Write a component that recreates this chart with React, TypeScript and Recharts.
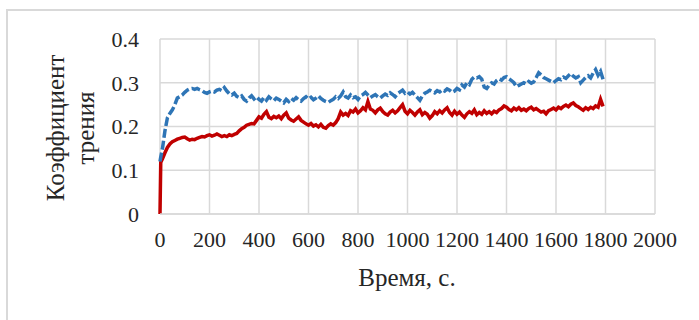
import React from "react";
import { LineChart, Line, XAxis, YAxis, CartesianGrid } from "recharts";

// Время испытания, с
const TIME_S = [
  0, 3, 10, 20, 30, 40, 50, 60, 70, 80, 90,
  100, 110, 120, 130, 140, 150, 160, 170, 180, 190,
  200, 210, 220, 230, 240, 250, 260, 270, 280, 290,
  300, 310, 320, 330, 340, 350, 360, 370, 380, 390,
  400, 410, 420, 430, 440, 450, 460, 470, 480, 490,
  500, 510, 520, 530, 540, 550, 560, 570, 580, 590,
  600, 610, 620, 630, 640, 650, 660, 670, 680, 690,
  700, 710, 720, 730, 740, 750, 760, 770, 780, 790,
  800, 810, 820, 830, 840, 850, 860, 870, 880, 890,
  900, 910, 920, 930, 940, 950, 960, 970, 980, 990,
  1000, 1010, 1020, 1030, 1040, 1050, 1060, 1070, 1080, 1090,
  1100, 1110, 1120, 1130, 1140, 1150, 1160, 1170, 1180, 1190,
  1200, 1210, 1220, 1230, 1240, 1250, 1260, 1270, 1280, 1290,
  1300, 1310, 1320, 1330, 1340, 1350, 1360, 1370, 1380, 1390,
  1400, 1410, 1420, 1430, 1440, 1450, 1460, 1470, 1480, 1490,
  1500, 1510, 1520, 1530, 1540, 1550, 1560, 1570, 1580, 1590,
  1600, 1610, 1620, 1630, 1640, 1650, 1660, 1670, 1680, 1690,
  1700, 1710, 1720, 1730, 1740, 1750, 1760, 1770, 1780, 1790,
];

// Коэффициент трения, пунктирная (синяя) кривая
const FRICTION_DASHED = [
  0.12, 0.13, 0.15, 0.19, 0.22, 0.23, 0.238, 0.25, 0.265, 0.268, 0.272,
  0.278, 0.283, 0.286, 0.287, 0.285, 0.287, 0.284, 0.282, 0.278, 0.276,
  0.279, 0.281, 0.279, 0.283, 0.285, 0.282, 0.289, 0.281, 0.275, 0.272,
  0.276, 0.269, 0.266, 0.27, 0.262, 0.258, 0.265, 0.27, 0.263, 0.268,
  0.262, 0.258, 0.266, 0.26, 0.268, 0.263, 0.259, 0.265, 0.262, 0.258,
  0.254, 0.262, 0.257, 0.264, 0.26, 0.266, 0.261, 0.258, 0.264, 0.268,
  0.263, 0.267, 0.261, 0.265, 0.27, 0.264, 0.26, 0.257, 0.255, 0.259,
  0.262, 0.268, 0.264, 0.27, 0.279, 0.268, 0.265, 0.272, 0.266, 0.268,
  0.262, 0.27, 0.273, 0.278, 0.272, 0.266, 0.27, 0.273, 0.268, 0.265,
  0.27, 0.274, 0.271, 0.277, 0.273, 0.268, 0.275, 0.279, 0.283, 0.276,
  0.279, 0.274, 0.278, 0.272, 0.266, 0.26, 0.27, 0.276, 0.279, 0.283,
  0.28, 0.277, 0.282, 0.279, 0.284, 0.281, 0.286, 0.283, 0.278, 0.281,
  0.287, 0.284, 0.295, 0.29, 0.3, 0.296, 0.308, 0.313, 0.311, 0.314,
  0.308, 0.29, 0.287, 0.295, 0.3, 0.297, 0.305, 0.309, 0.306, 0.312,
  0.314, 0.309, 0.305, 0.3, 0.291, 0.294, 0.297, 0.3, 0.297, 0.303,
  0.299, 0.302, 0.312, 0.323, 0.318, 0.312, 0.309, 0.306, 0.303, 0.3,
  0.305, 0.309, 0.307, 0.313, 0.31, 0.316, 0.321, 0.315, 0.311, 0.314,
  0.3, 0.306, 0.312, 0.316, 0.311, 0.322, 0.33, 0.317, 0.326, 0.308,
];

// Коэффициент трения, сплошная (красная) кривая
const FRICTION_SOLID = [
  0, 0.118, 0.126, 0.14, 0.152, 0.16, 0.165, 0.168, 0.171, 0.173, 0.175,
  0.176, 0.172, 0.169, 0.171, 0.17, 0.173, 0.175, 0.177, 0.176, 0.179,
  0.181, 0.178, 0.18, 0.183, 0.18, 0.177, 0.179, 0.177, 0.181, 0.179,
  0.182, 0.184, 0.19, 0.195, 0.198, 0.203, 0.205, 0.207, 0.206, 0.214,
  0.222, 0.219, 0.228, 0.234, 0.221, 0.218, 0.223, 0.22, 0.224, 0.218,
  0.226, 0.231, 0.219, 0.215, 0.212, 0.217, 0.222, 0.214, 0.21, 0.206,
  0.203, 0.207, 0.201, 0.204, 0.199, 0.205, 0.198, 0.196, 0.202, 0.206,
  0.203, 0.209, 0.218, 0.233, 0.226, 0.23, 0.225, 0.236, 0.233, 0.24,
  0.231, 0.236, 0.243, 0.238, 0.257, 0.24, 0.237, 0.231, 0.238, 0.242,
  0.234, 0.229, 0.226, 0.233, 0.237, 0.231, 0.236, 0.243, 0.25, 0.235,
  0.229, 0.237, 0.232, 0.226, 0.233, 0.238, 0.227, 0.232, 0.228, 0.219,
  0.225, 0.234, 0.229, 0.236, 0.231, 0.238, 0.243, 0.232, 0.226, 0.235,
  0.228, 0.233, 0.226, 0.221, 0.229, 0.234, 0.23, 0.238, 0.227, 0.232,
  0.228, 0.236, 0.23, 0.234, 0.229, 0.235, 0.232, 0.238, 0.241, 0.247,
  0.244, 0.239, 0.236, 0.242, 0.238, 0.243, 0.237, 0.24, 0.236, 0.241,
  0.244, 0.238, 0.241, 0.237, 0.233, 0.235, 0.229, 0.236, 0.239, 0.242,
  0.238, 0.244, 0.241, 0.246, 0.249, 0.245, 0.251, 0.254, 0.248, 0.245,
  0.241, 0.237, 0.243, 0.239, 0.244, 0.241, 0.247, 0.244, 0.262, 0.246,
];

const X_TICKS = [0, 200, 400, 600, 800, 1000, 1200, 1400, 1600, 1800, 2000];
const Y_TICKS = [0, 0.1, 0.2, 0.3, 0.4];

const X_TITLE = "Время, с.";
const Y_TITLE_LINES = ["Коэффициент", "трения"];

const FONT = '"Liberation Serif", "Times New Roman", serif';
const TEXT_COLOR = "#262626";
const GRID_COLOR = "#d9d9d9";

const data = TIME_S.map((t, i) => ({
  t,
  dashed: FRICTION_DASHED[i],
  solid: FRICTION_SOLID[i],
}));

export default function App() {
  const tickStyle = { fontFamily: FONT, fontSize: 22, fill: TEXT_COLOR };
  return (
    <div
      style={{
        position: "absolute",
        left: 0,
        top: 0,
        width: 699,
        height: 320,
        background: "#fff",
        overflow: "hidden",
      }}
    >
      <div
        style={{
          position: "absolute",
          left: 6,
          top: 9,
          width: 730,
          height: 340,
          border: `2px solid ${GRID_COLOR}`,
          boxSizing: "border-box",
        }}
      />
      <LineChart
        width={699}
        height={320}
        data={data}
        margin={{ top: 39, right: 44, bottom: 76, left: 0 }}
        style={{ position: "absolute", left: 0, top: 0 }}
      >
        <CartesianGrid stroke={GRID_COLOR} strokeWidth={1.5} />
        <XAxis
          dataKey="t"
          type="number"
          domain={[0, 2000]}
          ticks={X_TICKS}
          height={30}
          axisLine={{ stroke: GRID_COLOR, strokeWidth: 1.5 }}
          tickLine={false}
          tickSize={0}
          tickMargin={17}
          tick={tickStyle}
          interval={0}
        />
        <YAxis
          type="number"
          domain={[0, 0.4]}
          ticks={Y_TICKS}
          width={160}
          axisLine={false}
          tickLine={false}
          tickSize={0}
          tickMargin={21}
          tick={tickStyle}
          interval={0}
        />
        <Line
          dataKey="solid"
          stroke="#c00000"
          strokeWidth={3.5}
          dot={false}
          type="linear"
          isAnimationActive={false}
        />
        <Line
          dataKey="dashed"
          stroke="#2e75b6"
          strokeWidth={3.5}
          strokeDasharray="9 3"
          dot={false}
          type="linear"
          isAnimationActive={false}
        />
      </LineChart>
      <svg
        width={699}
        height={320}
        style={{ position: "absolute", left: 0, top: 0, pointerEvents: "none" }}
      >
        <text
          x={407}
          y={286}
          textAnchor="middle"
          fontFamily={FONT}
          fontSize={25}
          fill={TEXT_COLOR}
        >
          {X_TITLE}
        </text>
        <text
          transform="rotate(-90)"
          textAnchor="middle"
          fontFamily={FONT}
          fontSize={25}
          fill={TEXT_COLOR}
        >
          <tspan x={-128} y={64}>
            {Y_TITLE_LINES[0]}
          </tspan>
          <tspan x={-128} y={94}>
            {Y_TITLE_LINES[1]}
          </tspan>
        </text>
      </svg>
    </div>
  );
}
